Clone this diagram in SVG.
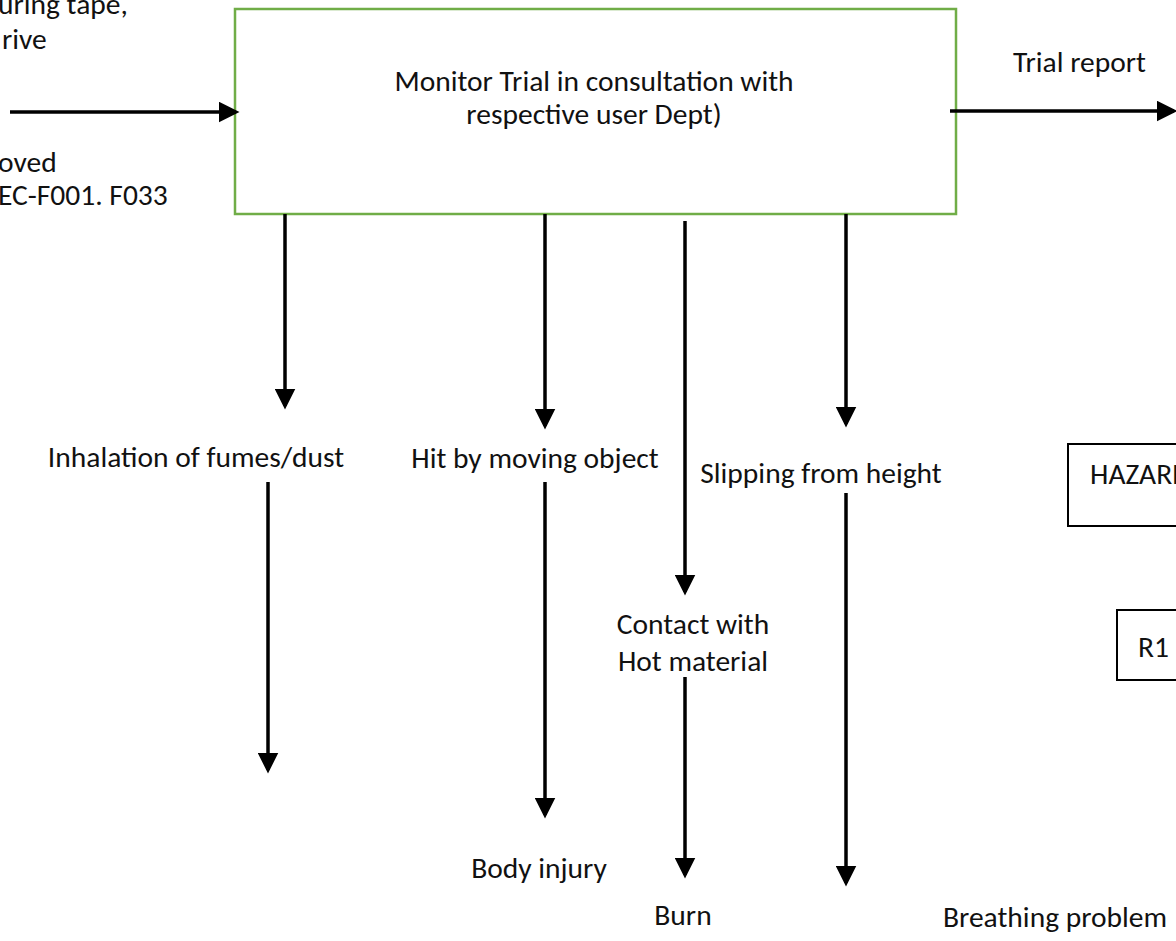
<svg xmlns="http://www.w3.org/2000/svg" width="1176" height="941" viewBox="0 0 1176 941">
  <style>
    text { font-family: Carlito, Lato, "Open Sans", sans-serif; font-size: 29.5px; fill: #111; }
    .mid { text-anchor: middle; }
    .wire { stroke: #000; stroke-width: 3.5; fill: none; }
    .box { fill: #fff; stroke: #000; stroke-width: 2; }
  </style>
  <defs>
    <marker id="head" markerWidth="6" markerHeight="6" refX="5" refY="3" orient="auto" markerUnits="strokeWidth">
      <path d="M0,0 L6,3 L0,6 z" fill="#000"/>
    </marker>
  </defs>
  <rect width="1176" height="941" fill="#fff"/>

  <!-- input labels, cut at the left margin -->
  <g id="input-labels">
    <text x="-2" y="14">uring tape,</text>
    <text x="2" y="49">rive</text>
    <text x="-2" y="172">oved</text>
    <text x="-2" y="205">EC-F001. F033</text>
  </g>

  <!-- process step -->
  <g id="process">
    <rect x="235" y="9" width="721" height="205" fill="#fff" stroke="#70ad47" stroke-width="2.5"/>
    <text class="mid" x="594" y="91">Monitor Trial in consultation with</text>
    <text class="mid" x="594" y="124">respective user Dept)</text>
  </g>

  <g id="output-label">
    <text x="1013" y="72">Trial report</text>
  </g>

  <!-- hazards -->
  <g id="hazard-fumes"><text class="mid" x="196" y="467">Inhalation of fumes/dust</text></g>
  <g id="hazard-moving"><text class="mid" x="535" y="468">Hit by moving object</text></g>
  <g id="hazard-hot">
    <text class="mid" x="693" y="634">Contact with</text>
    <text class="mid" x="693" y="671">Hot material</text>
  </g>
  <g id="hazard-height"><text class="mid" x="821" y="483">Slipping from height</text></g>

  <!-- consequences -->
  <g id="risk-injury"><text class="mid" x="539" y="878">Body injury</text></g>
  <g id="risk-burn"><text class="mid" x="683" y="925">Burn</text></g>
  <g id="risk-breathing"><text x="943" y="927">Breathing problem</text></g>

  <!-- legend boxes -->
  <g id="legend-hazard">
    <rect class="box" x="1068" y="444" width="120" height="82"/>
    <text x="1090" y="484">HAZARD</text>
  </g>
  <g id="legend-r1">
    <rect class="box" x="1117" y="610" width="80" height="70"/>
    <text x="1138" y="657">R1</text>
  </g>

  <!-- connectors -->
  <g id="connectors">
    <line class="wire" x1="10" y1="112" x2="236" y2="112" marker-end="url(#head)"/>
    <line class="wire" x1="950" y1="111" x2="1174" y2="111" marker-end="url(#head)"/>
    <line class="wire" x1="285" y1="214" x2="285" y2="406" marker-end="url(#head)"/>
    <line class="wire" x1="545" y1="214" x2="545" y2="426" marker-end="url(#head)"/>
    <line class="wire" x1="685" y1="221" x2="685" y2="592" marker-end="url(#head)"/>
    <line class="wire" x1="846" y1="214" x2="846" y2="424" marker-end="url(#head)"/>
    <line class="wire" x1="268" y1="482" x2="268" y2="770" marker-end="url(#head)"/>
    <line class="wire" x1="545" y1="482" x2="545" y2="815" marker-end="url(#head)"/>
    <line class="wire" x1="685" y1="677" x2="685" y2="875" marker-end="url(#head)"/>
    <line class="wire" x1="846" y1="493" x2="846" y2="883" marker-end="url(#head)"/>
  </g>
</svg>
